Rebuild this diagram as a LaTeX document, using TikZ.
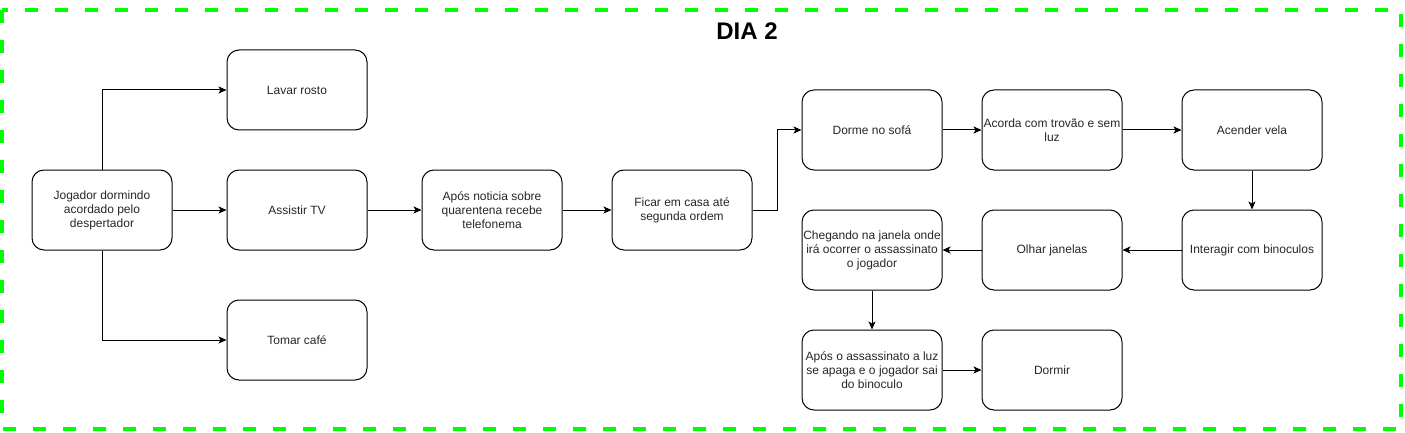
\documentclass[tikz,border=0pt]{standalone}
\usepackage{fontspec}
\setmainfont{Liberation Sans}
\usetikzlibrary{arrows.meta}
\definecolor{framegreen}{RGB}{0,255,0}
\tikzset{
  box/.style={draw=black, line width=1pt, rounded corners=12pt, minimum width=140pt, minimum height=80pt, align=center, inner sep=0pt, font=\fontsize{12}{14}\selectfont, text=black!85},
  conn/.style={draw=black, line width=1pt, -{Stealth[length=8pt,width=7pt,inset=2pt]}},
}
\begin{document}
\begin{tikzpicture}[x=1pt,y=-1pt]
\useasboundingbox (0,0) rectangle (1405,433);
\draw[framegreen, line width=4pt, dash pattern=on 13pt off 17pt] (2,10) rectangle (1401,429);
\node[font=\fontsize{24}{28}\selectfont\bfseries] (title) at (747,31) {DIA 2};

\node[box] (jog) at (102,210) {Jogador dormindo\\acordado pelo\\despertador};
\node[box] (lavar) at (297,90) {Lavar rosto};
\node[box] (tv) at (297,210) {Assistir TV};
\node[box] (cafe) at (297,340) {Tomar café};
\node[box] (noticia) at (492,210) {Após noticia sobre\\quarentena recebe\\telefonema};
\node[box] (casa) at (682,210) {Ficar em casa até\\segunda ordem};
\node[box] (sofa) at (872,130) {Dorme no sofá};
\node[box] (acorda) at (1052,130) {Acorda com trovão e sem\\luz};
\node[box] (vela) at (1252,130) {Acender vela};
\node[box] (binoc) at (1252,250) {Interagir com binoculos};
\node[box] (janelas) at (1052,250) {Olhar janelas};
\node[box] (chegando) at (872,250) {Chegando na janela onde\\irá ocorrer o assassinato\\o jogador};
\node[box] (apos) at (872,370) {Após o assassinato a luz\\se apaga e o jogador sai\\do binoculo};
\node[box] (dormir) at (1052,370) {Dormir};

\draw[conn] (jog.north) |- (lavar.west);
\draw[conn] (jog.east) -- (tv.west);
\draw[conn] (jog.south) |- (cafe.west);
\draw[conn] (tv.east) -- (noticia.west);
\draw[conn] (noticia.east) -- (casa.west);
\draw[conn] (casa.east) -- ++(25,0) |- (sofa.west);
\draw[conn] (sofa.east) -- (acorda.west);
\draw[conn] (acorda.east) -- (vela.west);
\draw[conn] (vela.south) -- (binoc.north);
\draw[conn] (binoc.west) -- (janelas.east);
\draw[conn] (janelas.west) -- (chegando.east);
\draw[conn] (chegando.south) -- (apos.north);
\draw[conn] (apos.east) -- (dormir.west);
\end{tikzpicture}
\end{document}
